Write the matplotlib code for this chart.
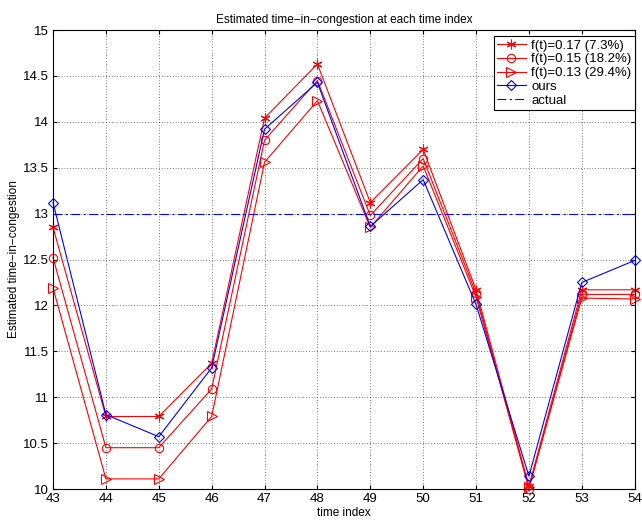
import numpy as np
import matplotlib
matplotlib.use('Agg')
import matplotlib.pyplot as plt

plt.rcParams['font.family'] = ['Liberation Sans', 'DejaVu Sans']

t = [43, 44, 45, 46, 47, 48, 49, 50, 51, 52, 53, 54]
f017 = [12.85, 10.79, 10.79, 11.37, 14.04, 14.63, 13.12, 13.70, 12.17, 10.03, 12.17, 12.17]
f015 = [12.52, 10.45, 10.45, 11.09, 13.80, 14.45, 12.98, 13.60, 12.13, 10.00, 12.12, 12.12]
f013 = [12.19, 10.11, 10.11, 10.79, 13.56, 14.23, 12.85, 13.52, 12.09, 10.02, 12.08, 12.07]
ours = [13.12, 10.81, 10.57, 11.32, 13.92, 14.43, 12.86, 13.37, 12.01, 10.14, 12.25, 12.49]
actual = 13.0

fig = plt.figure(figsize=(6.42, 5.23), dpi=100)
ax = fig.add_axes([0.0826, 0.065, 0.906, 0.8776])

star = (6, 2, 0)
ax.plot(t, f017, '-', marker=star, color='red', lw=0.8, ms=7, mew=0.8, label='f(t)=0.17 (7.3%)', clip_on=False)
ax.plot(t, f015, '-o', color='red', lw=0.8, ms=6, mfc='none', mew=0.8, label='f(t)=0.15 (18.2%)', clip_on=False)
ax.plot(t, f013, '->', color='red', lw=0.8, ms=6.5, mfc='none', mew=0.8, label='f(t)=0.13 (29.4%)', clip_on=False)
ax.plot(t, ours, '-D', color='blue', lw=0.8, ms=5, mfc='none', mew=0.8, label='ours', clip_on=False)
ax.axhline(actual, color='blue', lw=0.8, ls=(0, (8, 3, 2, 3)), label='actual')

ax.set_xlim(43, 54)
ax.set_ylim(10, 15)
ax.set_xticks(t)
ax.set_yticks(np.arange(10, 15.01, 0.5))
ax.set_yticklabels(['10', '10.5', '11', '11.5', '12', '12.5', '13', '13.5', '14', '14.5', '15'])
ax.tick_params(direction='in', top=True, right=True, labelsize=9.5, length=3, pad=3)
ax.grid(True, ls=(0, (1, 3)), color='black', lw=0.5)
for s in ax.spines.values():
    s.set_linewidth(0.8)

ax.set_title('Estimated time\u2212in\u2212congestion at each time index', fontsize=8.5, pad=5)
ax.set_xlabel('time index', fontsize=8.5, labelpad=1)
ax.set_ylabel('Estimated time\u2212in\u2212congestion', fontsize=8.5, labelpad=2)

leg = ax.legend(loc='upper right', fontsize=9.5, fancybox=False, framealpha=1, edgecolor='black',
                borderpad=0.25, labelspacing=0.12, handlelength=2.2, handletextpad=0.4,
                borderaxespad=0, bbox_to_anchor=(1.0, 0.987))
leg.get_frame().set_linewidth(0.8)

plt.savefig('out.png', dpi=100)
